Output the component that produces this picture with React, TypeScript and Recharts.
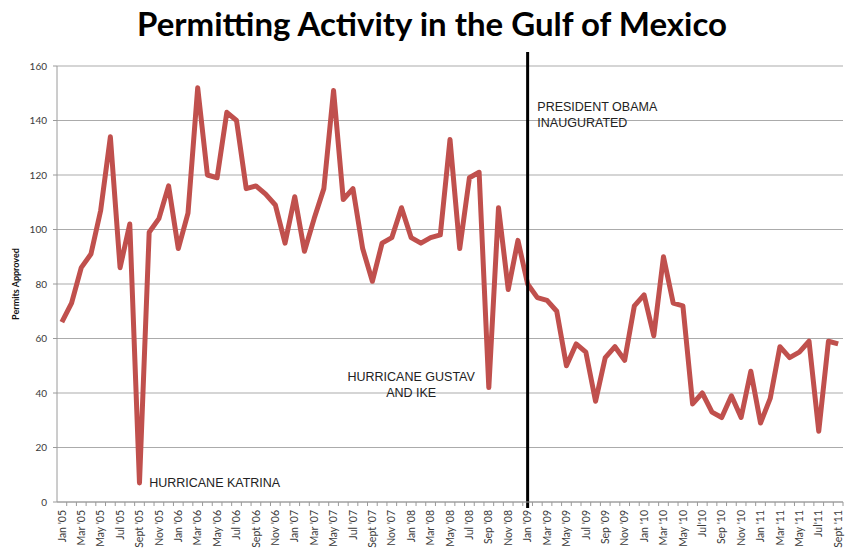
import { LineChart, Line, XAxis, YAxis, CartesianGrid, ReferenceLine, ReferenceDot } from 'recharts'

// Monthly permits approved, Jan '05 through Sept '11
const PERMITS = [
  66, 73, 86, 91, 107, 134, 86, 102, 7, 99, 104, 116,
  93, 106, 152, 120, 119, 143, 140, 115, 116, 113, 109, 95,
  112, 92, 104, 115, 151, 111, 115, 93, 81, 95, 97, 108,
  97, 95, 97, 98, 133, 93, 119, 121, 42, 108, 78, 96,
  80, 75, 74, 70, 50, 58, 55, 37, 53, 57, 52, 72,
  76, 61, 90, 73, 72, 36, 40, 33, 31, 39, 31, 48,
  29, 38, 57, 53, 55, 59, 26, 59, 58,
]

// Every other month gets a label
const TICK_LABELS = [
  "Jan '05", "Mar '05", "May '05", "Jul '05", "Sept '05", "Nov '05",
  "Jan '06", "Mar '06", "May '06", "Jul '06", "Sept '06", "Nov '06",
  "Jan '07", "Mar '07", "May '07", "Jul '07", "Sept '07", "Nov '07",
  "Jan '08", "Mar '08", "May '08", "Jul '08", "Sep '08", "Nov '08",
  "Jan '09", "Mar '09", "May '09", "Jul '09", "Sep '09", "Nov '09",
  "Jan '10", "Mar '10", "May '10", "Jul'10", "Sep '10", "Nov '10",
  "Jan '11", "Mar '11", "May '11", "Jul'11", "Sept '11",
]

const Y_TICKS = [0, 20, 40, 60, 80, 100, 120, 140, 160]
const INAUGURATION = 48 // Jan '09

const W = 848
const H = 548
const MARGIN = { top: 66, right: 5, bottom: 0, left: 0 }
const Y_AXIS_W = 57
const PLOT_W = W - MARGIN.left - MARGIN.right - Y_AXIS_W
const STEP = PLOT_W / PERMITS.length

const data = PERMITS.map((v, i) => ({ i, permits: v }))

const TEXT_FONT = 'Lato, "Open Sans", sans-serif'
const NOTE_FONT = '"Liberation Sans", Arial, sans-serif'

function MonthTick(props: any) {
  const { x, y, payload } = props
  const idx = payload.value as number
  const label = idx % 2 === 0 ? TICK_LABELS[idx / 2] : ''
  const axisY = y - 8
  return (
    <g>
      <line x1={x + STEP / 2} x2={x + STEP / 2} y1={axisY} y2={axisY + 4} stroke="#9a9a9a" />
      {label && (
        <text x={x} y={axisY + 8} transform={`rotate(-90, ${x}, ${axisY + 8})`}
          textAnchor="end" dy="0.35em" fontSize={10.5} fill="#3a3a3a" fontFamily={TEXT_FONT}>
          {label}
        </text>
      )}
    </g>
  )
}

function Note({ viewBox, lines, anchor = 'start' }: any) {
  const { x, y } = viewBox
  return (
    <text x={x} y={y} textAnchor={anchor} fontSize={12.5} fill="#222" fontFamily={NOTE_FONT}>
      {lines.map((t: string, k: number) => (
        <tspan key={k} x={x} dy={k === 0 ? '0.35em' : 16}>{t}</tspan>
      ))}
    </text>
  )
}

function AxisTitle({ viewBox }: any) {
  const cx = 19
  const cy = viewBox.y + viewBox.height / 2
  return (
    <text x={cx} y={cy} transform={`rotate(-90, ${cx}, ${cy})`} textAnchor="middle"
      fontSize={9} fontWeight={700} fill="#111" fontFamily={TEXT_FONT}>
      Permits Approved
    </text>
  )
}

// Vertical marker that pokes out past the top and bottom of the plot
function TallLine(props: any) {
  const { x1, x2, y1, y2 } = props
  const top = Math.min(y1, y2)
  const bottom = Math.max(y1, y2)
  return <line x1={x1} x2={x2} y1={top - 14} y2={bottom + 6} stroke="#000" strokeWidth={3} />
}

export default function App() {
  return (
    <div style={{ position: 'absolute', left: 0, top: 0, width: W, height: H, background: '#fff' }}>
      <div style={{
        position: 'absolute', left: 0, top: 3, width: W, textAlign: 'center',
        fontFamily: TEXT_FONT, fontWeight: 700, fontSize: 33, color: '#000', paddingLeft: 8,
      }}>
        Permitting Activity in the Gulf of Mexico
      </div>
      <LineChart width={W} height={H} data={data} margin={MARGIN}>
        <CartesianGrid horizontal vertical={false} stroke="#ababab" />
        <XAxis dataKey="i" type="category" interval={0} height={46}
          padding={{ left: STEP / 2, right: STEP / 2 }}
          axisLine={{ stroke: '#9a9a9a' }} tickLine={false} tick={<MonthTick />} />
        <YAxis domain={[0, 160]} ticks={Y_TICKS} width={Y_AXIS_W} interval={0}
          axisLine={{ stroke: '#9a9a9a' }} tickLine={{ stroke: '#9a9a9a' }} tickSize={4} tickMargin={6}
          tick={{ fontSize: 10, fill: '#3a3a3a', fontFamily: TEXT_FONT }}
          label={<AxisTitle />} />
        <Line dataKey="permits" type="linear" stroke="#c0504d" strokeWidth={5}
          strokeLinejoin="round" dot={false} isAnimationActive={false} />
        <ReferenceLine x={INAUGURATION} stroke="#000" shape={<TallLine />} />
        <ReferenceDot x={9} y={7} r={0} stroke="none" fill="none"
          label={<Note lines={['HURRICANE KATRINA']} />} />
        <ReferenceDot x={36} y={46} r={0} stroke="none" fill="none"
          label={<Note lines={['HURRICANE GUSTAV', 'AND IKE']} anchor="middle" />} />
        <ReferenceDot x={49} y={145} r={0} stroke="none" fill="none"
          label={<Note lines={['PRESIDENT OBAMA', 'INAUGURATED']} />} />
      </LineChart>
    </div>
  )
}
